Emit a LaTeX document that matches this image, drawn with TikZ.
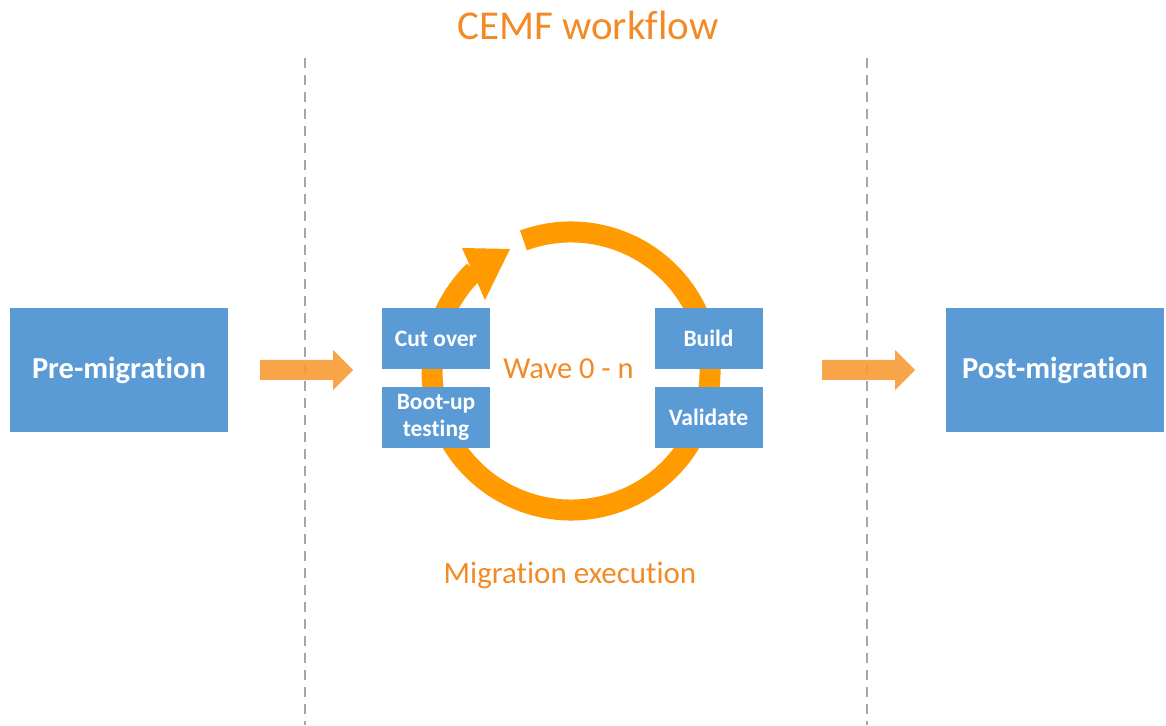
\documentclass[tikz,border=0pt]{standalone}
\usepackage{fontspec}
\setmainfont{Carlito}[Ligatures={NoCommon}]
\definecolor{boxblue}{HTML}{5B9BD5}
\definecolor{ringorange}{HTML}{FF9A00}
\definecolor{textorange}{HTML}{F28A26}
\definecolor{arroworange}{HTML}{F79A34}
\definecolor{dashgray}{HTML}{A6A6A6}
\tikzset{
  bigbox/.style={rectangle, fill=boxblue, text=white, minimum width=218pt, minimum height=124pt, inner sep=0pt,
    font=\fontsize{30.5}{36}\selectfont\bfseries},
  smallbox/.style={rectangle, fill=boxblue, text=white, minimum width=108pt, minimum height=61pt, inner sep=0pt,
    align=center, font=\fontsize{23.5}{27}\selectfont\bfseries},
  fatarrow/.style={fill=arroworange, fill opacity=0.9},
  divider/.style={draw=dashgray, line width=1.6pt, dash pattern=on 10pt off 7pt},
  orangetext/.style={text=textorange, inner sep=0pt, anchor=base},
  ring/.style={draw=ringorange, line width=21pt, line cap=butt}
}
\begin{document}
\begin{tikzpicture}[x=1pt,y=1pt]
\useasboundingbox (0,0) rectangle (1166,725);
% dividers
\coordinate (d1t) at (305,667);
\coordinate (d1b) at (305,0);
\coordinate (d2t) at (867,667);
\coordinate (d2b) at (867,0);
\draw[divider] (d1t) -- (d1b);
\draw[divider] (d2t) -- (d2b);
% title
\node[orangetext, font=\fontsize{41}{48}\selectfont] (title) at (588,685) {CEMF workflow};
% big boxes
\node[bigbox] (pre) at (119,355) {Pre-migration};
\node[bigbox] (post) at (1055,355) {Post-migration};
% fat arrows
\coordinate (a1) at (260,355);
\coordinate (a2) at (822,355);
\foreach \a in {a1,a2}{
  \fill[fatarrow] (\a) ++(0,10) -- ++(73,0) -- ++(0,10) -- ++(20,-20) -- ++(-20,-20) -- ++(0,10) -- ++(-73,0) -- cycle;
}
% ring
\coordinate (c) at (571,354);
\draw[ring] (c) ++(110:139) arc[start angle=110, end angle=-226, radius=139];
\coordinate (hA) at (462,477);
\coordinate (hB) at (510,476);
\coordinate (hC) at (485,425);
\fill[ringorange] (hA) -- (hB) -- (hC) -- cycle;
% small boxes
\node[smallbox] (cut) at (436,386.5) {Cut over};
\node[smallbox] (boot) at (436,307.5) {Boot-up\\testing};
\node[smallbox] (build) at (708.5,386.5) {Build};
\node[smallbox] (valid) at (708.5,307.5) {Validate};
% labels
\node[orangetext, font=\fontsize{30.5}{35}\selectfont] (wave) at (568.5,346) {Wave 0 - n};
\node[orangetext, font=\fontsize{31}{36}\selectfont] (mig) at (570,141) {Migration execution};
\end{tikzpicture}
\end{document}
